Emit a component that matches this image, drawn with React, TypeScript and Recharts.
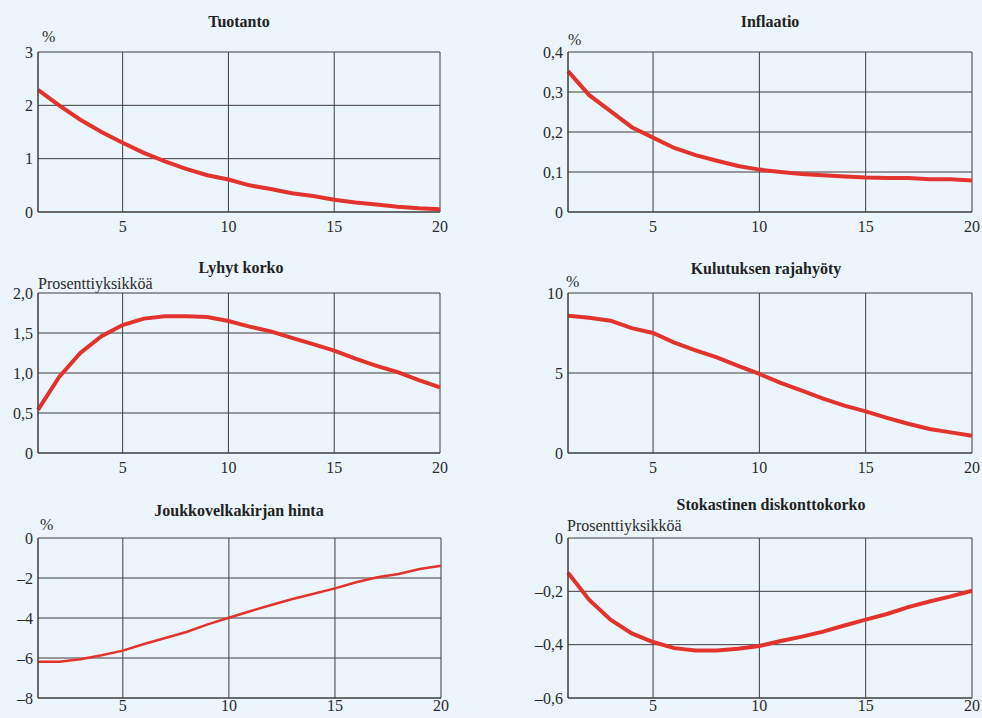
import React from 'react';
import { LineChart, Line, XAxis, YAxis, CartesianGrid } from 'recharts';

const periods = [1, 2, 3, 4, 5, 6, 7, 8, 9, 10, 11, 12, 13, 14, 15, 16, 17, 18, 19, 20];
const xTicks = [5, 10, 15, 20];

const tuotanto = [2.29, 2.0, 1.73, 1.5, 1.3, 1.11, 0.95, 0.81, 0.69, 0.61, 0.5, 0.43, 0.35, 0.3, 0.23, 0.18, 0.14, 0.1, 0.07, 0.05];
const inflaatio = [0.352, 0.292, 0.252, 0.212, 0.186, 0.16, 0.142, 0.128, 0.115, 0.106, 0.1, 0.095, 0.092, 0.089, 0.086, 0.085, 0.085, 0.082, 0.082, 0.079];
const lyhytKorko = [0.54, 0.95, 1.25, 1.46, 1.6, 1.68, 1.71, 1.71, 1.7, 1.65, 1.58, 1.52, 1.44, 1.36, 1.28, 1.18, 1.09, 1.01, 0.91, 0.82];
const rajahyoty = [8.58, 8.45, 8.27, 7.8, 7.5, 6.9, 6.42, 5.98, 5.45, 4.94, 4.38, 3.9, 3.4, 2.96, 2.6, 2.2, 1.83, 1.5, 1.29, 1.08];
const joukkovelka = [-6.19, -6.19, -6.06, -5.86, -5.63, -5.3, -5.0, -4.7, -4.32, -3.99, -3.66, -3.35, -3.05, -2.79, -2.52, -2.21, -1.96, -1.8, -1.55, -1.39];
const diskontto = [-0.13, -0.232, -0.306, -0.358, -0.39, -0.413, -0.422, -0.422, -0.415, -0.405, -0.386, -0.37, -0.351, -0.328, -0.306, -0.285, -0.259, -0.238, -0.219, -0.198];

const ticks1 = [0, 1, 2, 3];
const ticks2 = [0, 0.1, 0.2, 0.3, 0.4];
const ticks3 = [0, 0.5, 1, 1.5, 2];
const ticks4 = [0, 5, 10];
const ticks5 = [-8, -6, -4, -2, 0];
const ticks6 = [-0.6, -0.4, -0.2, 0];

const RED = '#e3332d';
const GRID = '#3d3d3d';
const BG = '#edf5fc';
const FONT = '"Liberation Serif", "DejaVu Serif", serif';

const fmt = (digits: number) => (v: number) => {
  if (v === 0) return '0';
  const s = Math.abs(v).toFixed(digits).replace('.', ',');
  return v < 0 ? '\u2013' + s : s;
};

interface PanelProps {
  values: number[];
  yTicks: number[];
  digits: number;
  title: string;
  unit: string;
  plotLeft: number;
  plotTop: number;
  plotW: number;
  plotH: number;
  titleX: number;
  titleY: number;
  unitX: number;
  unitY: number;
  lineWidth?: number;
  xGap?: number;
}

const Panel: React.FC<PanelProps> = (p) => {
  const yw = 40;
  const mt = 10;
  const data = periods.map((x, i) => ({ x, v: p.values[i] }));
  const tickStyle = { fill: '#2a2a2a', fontSize: 16, fontFamily: FONT };
  return (
    <>
      <div
        style={{
          position: 'absolute',
          left: p.titleX - 150,
          width: 300,
          top: p.titleY - 10,
          textAlign: 'center',
          fontWeight: 'bold',
          fontSize: 16,
          fontFamily: FONT,
          color: '#222',
          lineHeight: '20px',
        }}
      >
        {p.title}
      </div>
      <div
        style={{
          position: 'absolute',
          left: p.unitX,
          top: p.unitY - 10,
          fontSize: 16,
          fontFamily: FONT,
          color: '#2a2a2a',
          lineHeight: '20px',
          whiteSpace: 'nowrap',
        }}
      >
        {p.unit}
      </div>
      <div style={{ position: 'absolute', left: p.plotLeft - yw, top: p.plotTop - mt }}>
        <LineChart
          width={yw + p.plotW + 14}
          height={mt + p.plotH + 30}
          data={data}
          margin={{ top: mt, right: 14, bottom: 0, left: 0 }}
        >
          <CartesianGrid stroke={GRID} strokeWidth={1} fill={BG} />
          <XAxis
            dataKey="x"
            type="number"
            domain={[1, 20]}
            ticks={xTicks}
            tickLine={false}
            tickSize={0}
            tickMargin={p.xGap ?? 9}
            axisLine={{ stroke: GRID }}
            tick={tickStyle}
            height={30}
          />
          <YAxis
            type="number"
            domain={[p.yTicks[0], p.yTicks[p.yTicks.length - 1]]}
            ticks={p.yTicks}
            tickFormatter={fmt(p.digits)}
            tickLine={false}
            tickSize={0}
            tickMargin={5}
            axisLine={{ stroke: GRID }}
            tick={tickStyle}
            width={yw}
          />
          <Line
            type="linear"
            dataKey="v"
            stroke={RED}
            strokeWidth={p.lineWidth ?? 4}
            dot={false}
            isAnimationActive={false}
          />
        </LineChart>
      </div>
    </>
  );
};

const App: React.FC = () => {
  return (
    <div
      style={{
        position: 'absolute',
        left: 0,
        top: 0,
        width: 982,
        height: 718,
        overflow: 'hidden',
        background: BG,
      }}
    >
      <Panel values={tuotanto} yTicks={ticks1} digits={0} title="Tuotanto" unit="%"
        plotLeft={38} plotTop={52} plotW={402} plotH={160}
        titleX={239} titleY={22} unitX={42} unitY={37} />
      <Panel values={inflaatio} yTicks={ticks2} digits={1} title="Inflaatio" unit="%"
        plotLeft={568} plotTop={52} plotW={404} plotH={160}
        titleX={770} titleY={22} unitX={568} unitY={40} />
      <Panel values={lyhytKorko} yTicks={ticks3} digits={1} title="Lyhyt korko" unit="Prosenttiyksikköä"
        plotLeft={38} plotTop={293} plotW={402} plotH={160}
        titleX={241} titleY={268} unitX={38} unitY={284} />
      <Panel values={rajahyoty} yTicks={ticks4} digits={0} title="Kulutuksen rajahyöty" unit="%"
        plotLeft={568} plotTop={293} plotW={404} plotH={160}
        titleX={766} titleY={269} unitX={566} unitY={282} />
      <Panel values={joukkovelka} yTicks={ticks5} digits={0} title="Joukkovelkakirjan hinta" unit="%"
        plotLeft={38} plotTop={538} plotW={403} plotH={160} lineWidth={2.5} xGap={2}
        titleX={239} titleY={511} unitX={40} unitY={525} />
      <Panel values={diskontto} yTicks={ticks6} digits={1} title="Stokastinen diskonttokorko" unit="Prosenttiyksikköä"
        plotLeft={568} plotTop={538} plotW={404} plotH={160} xGap={2}
        titleX={771} titleY={505} unitX={567} unitY={526} />
    </div>
  );
};

export default App;
